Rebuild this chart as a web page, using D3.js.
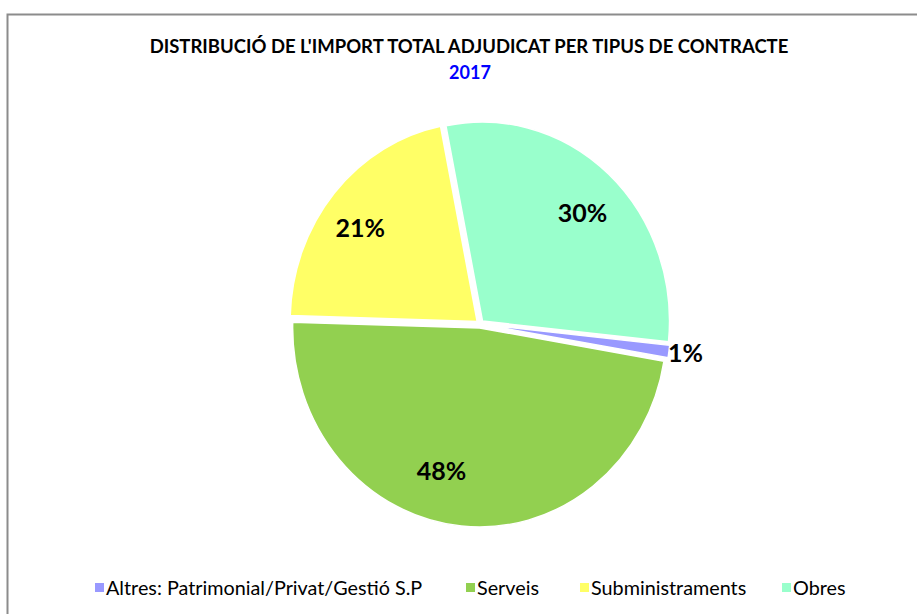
<!DOCTYPE html>
<html>
<head>
<meta charset="utf-8">
<script src="https://cdn.jsdelivr.net/npm/d3@7"></script>
<style>
  html, body { margin: 0; padding: 0; background: #fff; }
  svg { display: block; }
</style>
</head>
<body>
<svg id="chart" width="917" height="614"></svg>
<script>
// ---- data ----
const categories = ["Altres: Patrimonial/Privat/Gestió S.P", "Serveis", "Subministraments", "Obres"];
const shares = [1.0, 47.8, 21.4, 29.8];
const colors = ["#9999FF", "#92D050", "#FFFF66", "#99FFCC"];
const titleText = "DISTRIBUCIÓ DE L'IMPORT TOTAL ADJUDICAT PER TIPUS DE CONTRACTE";
const subtitleText = "2017";

// ---- layout ----
const svg = d3.select("#chart");
const cx = 480, cy = 324, R = 199, sx = 187 / 199, explode = 4;
const deg = Math.PI / 180;
const FONT = "Lato, 'Open Sans', sans-serif";
// label nudges (layout only), by slice index
const labelNudge = [[0, 0], [-24, -9], [-7, 6], [3, 5]];

// frame
svg.append("rect").attr("x", 7.5).attr("y", 14.5).attr("width", 1000).attr("height", 1000)
  .attr("fill", "#fff").attr("stroke", "#8c8c8c").attr("stroke-width", 2);

// title
svg.append("text").attr("x", 469).attr("y", 53).attr("text-anchor", "middle")
  .style("font-family", FONT).style("font-weight", "bold")
  .style("font-size", "18.5px").attr("fill", "#000").text(titleText);
svg.append("text").attr("x", 470).attr("y", 79).attr("text-anchor", "middle")
  .style("font-family", FONT).style("font-weight", "bold")
  .style("font-size", "18px").attr("fill", "#0000FF").text(subtitleText);

const data = categories.map((c, i) => ({ cat: c, value: shares[i], color: colors[i] }));
const pie = d3.pie().sort(null).value(d => d.value)
  .startAngle(96 * deg).endAngle(96 * deg + 2 * Math.PI);
const arcs = pie(data);
const arc = d3.arc().innerRadius(0).outerRadius(R);

const g = svg.append("g");
arcs.forEach(a => {
  const mid = (a.startAngle + a.endAngle) / 2;
  const ox = cx + explode * Math.sin(mid) * sx;
  const oy = cy - explode * Math.cos(mid);
  g.append("path")
    .attr("transform", `translate(${ox},${oy}) scale(${sx},1)`)
    .attr("d", arc(a))
    .attr("fill", a.data.color)
    .attr("stroke", "#fff")
    .attr("stroke-width", 1.5)
    .attr("vector-effect", "non-scaling-stroke");
});

// labels
arcs.forEach((a, i) => {
  const mid = (a.startAngle + a.endAngle) / 2;
  const pct = Math.round(a.data.value) + "%";
  let x, y, anchor;
  if (a.endAngle - a.startAngle < 10 * deg) {
    x = cx + (R + 3) * Math.sin(mid) * sx;
    y = cy - (R + 3) * Math.cos(mid) + 2;
    anchor = "start";
  } else {
    const rr = 0.79 * R;
    x = cx + rr * Math.sin(mid) * sx + labelNudge[i][0];
    y = cy - rr * Math.cos(mid) + labelNudge[i][1];
    anchor = "middle";
  }
  svg.append("text").attr("x", x).attr("y", y).attr("dy", "0.35em")
    .attr("text-anchor", anchor)
    .style("font-family", FONT).style("font-weight", "bold")
    .style("font-size", "25px").attr("fill", "#000").text(pct);
});

// legend
const legendX = [95, 466, 580, 782];
const lg = svg.append("g");
data.forEach((d, i) => {
  lg.append("rect").attr("x", legendX[i]).attr("y", 583).attr("width", 9).attr("height", 9).attr("fill", d.color);
  lg.append("text").attr("x", legendX[i] + 11).attr("y", 595)
    .style("font-family", FONT).style("font-size", "19.8px")
    .attr("fill", "#000").text(d.cat);
});
</script>
</body>
</html>
